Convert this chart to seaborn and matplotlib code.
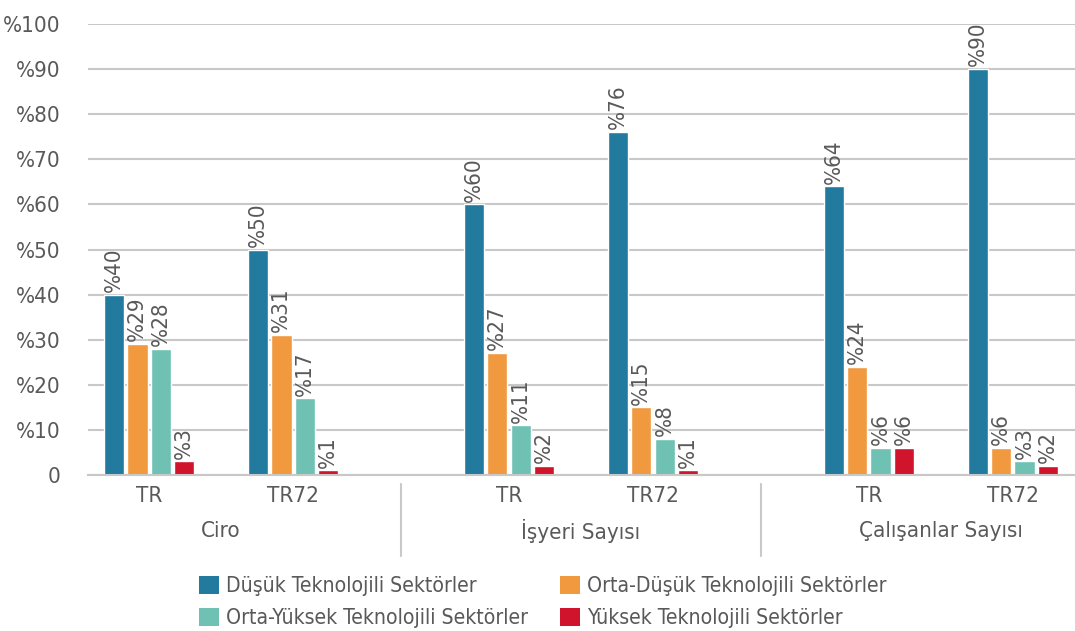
import matplotlib
matplotlib.use("Agg")
import matplotlib.pyplot as plt
from matplotlib.patches import Patch
import pandas as pd
import seaborn as sns

# --- data -------------------------------------------------------------
groups = ["Ciro", "İşyeri Sayısı", "Çalışanlar Sayısı"]
regions = ["TR", "TR72"]
sectors = [
    "Düşük Teknolojili Sektörler",
    "Orta-Düşük Teknolojili Sektörler",
    "Orta-Yüksek Teknolojili Sektörler",
    "Yüksek Teknolojili Sektörler",
]
# one value per (group, region): Ciro TR, Ciro TR72, İşyeri TR, İşyeri TR72, Çalışan TR, Çalışan TR72
dusuk = [40, 50, 60, 76, 64, 90]
orta_dusuk = [29, 31, 27, 15, 24, 6]
orta_yuksek = [28, 17, 11, 8, 6, 3]
yuksek = [3, 1, 2, 1, 6, 2]
y_ticks = [0, 10, 20, 30, 40, 50, 60, 70, 80, 90, 100]
y_tick_labels = ["0", "%10", "%20", "%30", "%40", "%50", "%60", "%70", "%80", "%90", "%100"]

colors = ["#227A9E", "#F0993F", "#6FC2B3", "#CF142B"]
text_color = "#595959"
grid_color = "#C8C8C8"

# --- style ------------------------------------------------------------
sns.set_theme(style="white")
plt.rcParams["font.family"] = ["DejaVu Sans"]
plt.rcParams["font.stretch"] = "condensed"
plt.rcParams["text.color"] = text_color
plt.rcParams["xtick.color"] = text_color
plt.rcParams["ytick.color"] = text_color
fs = 16

# x position of each cluster: regions side by side, groups separated by an extra half slot
group_step = 2.5
positions = [g * group_step + r for g in range(len(groups)) for r in range(len(regions))]

series = [dusuk, orta_dusuk, orta_yuksek, yuksek]
rows = []
for name, vals in zip(sectors, series):
    for pos, v in zip(positions, vals):
        rows.append({"pos": pos, "value": v, "sektor": name})
df = pd.DataFrame(rows)

fig = plt.figure(figsize=(10.75, 6.31), dpi=100)
ax = fig.add_axes([88 / 1075, 1 - 475 / 631, 1 - 88 / 1075, (475 - 24) / 631])

sns.barplot(
    data=df, x="pos", y="value", hue="sektor", hue_order=sectors,
    palette=colors, native_scale=True, width=0.65, gap=0.13,
    errorbar=None, legend=False, saturation=1, ax=ax,
)

for cont in ax.containers:
    ax.bar_label(cont, fmt=lambda v: f"%{v:g}", rotation=90, padding=2,
                 fontsize=fs, color=text_color)

# axes
ax.set_ylim(0, 100)
ax.set_xlim(-0.424, 6.431)
ax.set_yticks(y_ticks, y_tick_labels)
ax.yaxis.grid(True, color=grid_color, linewidth=1.5)
ax.set_axisbelow(True)
for side in ["left", "right", "top"]:
    ax.spines[side].set_visible(False)
ax.spines["bottom"].set_color(grid_color)
ax.spines["bottom"].set_linewidth(1.5)
ax.tick_params(axis="y", length=0, pad=20, labelsize=fs)
ax.set_xticks(positions, [r for _ in groups for r in regions])
ax.tick_params(axis="x", length=0, pad=8, labelsize=fs)
ax.set_xlabel("")
ax.set_ylabel("")

# group labels and separators under the category axis
for g, name in enumerate(groups):
    center = g * group_step + (len(regions) - 1) / 2
    ax.annotate(name, xy=(center, 0), xycoords=("data", "axes fraction"),
                xytext=(0, -40), textcoords="offset points",
                ha="center", va="center", fontsize=fs, color=text_color)
for g in range(1, len(groups)):
    xsep = g * group_step - (group_step - (len(regions) - 1)) / 2
    ax.plot([xsep, xsep], [-0.02, -0.18], color=grid_color, linewidth=1.5,
            transform=ax.get_xaxis_transform(), clip_on=False)

# legend
handles = [Patch(facecolor=c, edgecolor="none", label=s) for c, s in zip(colors, sectors)]
order = [0, 2, 1, 3]
fig.legend(
    handles=[handles[i] for i in order], loc="center", bbox_to_anchor=(0.505, 0.046),
    ncol=2, frameon=False, fontsize=15.2, handlelength=0.95, handleheight=0.95,
    handletextpad=0.35, columnspacing=1.5, labelspacing=0.55, labelcolor=text_color,
)

fig.savefig("out.png", dpi=100)
